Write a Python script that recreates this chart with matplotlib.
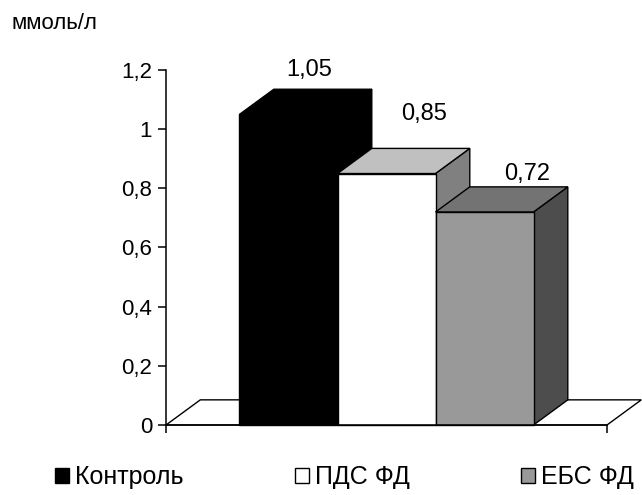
import matplotlib
matplotlib.use("Agg")
import matplotlib.pyplot as plt
from matplotlib.patches import Polygon, Patch

plt.rcParams['font.family'] = ['Liberation Sans', 'DejaVu Sans']

groups = ["Контроль", "ПДС ФД", "ЕБС ФД"]
values = [1.05, 0.85, 0.72]
value_labels = ["1,05", "0,85", "0,72"]
y_ticks = [0, 0.2, 0.4, 0.6, 0.8, 1.0, 1.2]
y_tick_labels = ["0", "0,2", "0,4", "0,6", "0,8", "1", "1,2"]
unit_label = "ммоль/л"

# front / top / side colours of every bar
front_colors = ["#000000", "#ffffff", "#999999"]
top_colors = ["#000000", "#c0c0c0", "#737373"]
side_colors = ["#000000", "#808080", "#4d4d4d"]

# where excel put the value labels (offset from bar left edge / bar value)
label_dx = [0.71, 0.88, 0.93]
label_dy = [0.15, 0.20, 0.13]

depth_x = 0.35   # in bar widths
depth_y = 0.085  # in value units
margin = 0.75    # floor beyond the bars, in bar widths

fig = plt.figure(figsize=(6.42, 4.95), dpi=100)
ax = fig.add_axes([166 / 642, 70 / 495, 476 / 642, 355 / 495])
n = len(values)
ax.set_xlim(-margin, -margin + 476 / 98)
ax.set_ylim(0, 1.2)

# floor
floor = Polygon([(-margin, 0), (n + margin, 0),
                 (n + margin + depth_x, depth_y), (-margin + depth_x, depth_y)],
                closed=True, fc="white", ec="black", lw=1.0, zorder=1, clip_on=False)
ax.add_patch(floor)

for i, v in enumerate(values):
    z = 2 + i
    side = [(i + 1, 0), (i + 1 + depth_x, depth_y), (i + 1 + depth_x, v + depth_y), (i + 1, v)]
    top = [(i, v), (i + 1, v), (i + 1 + depth_x, v + depth_y), (i + depth_x, v + depth_y)]
    front = [(i, 0), (i + 1, 0), (i + 1, v), (i, v)]
    ax.add_patch(Polygon(side, closed=True, fc=side_colors[i], ec="black", lw=1.0, zorder=z, clip_on=False))
    ax.add_patch(Polygon(top, closed=True, fc=top_colors[i], ec="black", lw=1.0, zorder=z, clip_on=False))
    ax.add_patch(Polygon(front, closed=True, fc=front_colors[i], ec="black", lw=1.0, zorder=z, clip_on=False))
    ax.text(i + label_dx[i], v + label_dy[i], value_labels[i], fontsize=17,
            ha="center", va="center", clip_on=False)

for s in ["top", "right"]:
    ax.spines[s].set_visible(False)
ax.spines["left"].set_bounds(0, 1.2)
ax.spines["bottom"].set_bounds(-margin, n + margin)
ax.spines["left"].set_linewidth(1.1)
ax.spines["bottom"].set_linewidth(1.1)
ax.spines["left"].set_zorder(10)
ax.spines["bottom"].set_zorder(10)

ax.set_yticks(y_ticks)
ax.set_yticklabels(y_tick_labels, fontsize=16)
ax.set_xticks([-margin, n + margin])
ax.set_xticklabels([])
ax.tick_params(axis="both", direction="out", length=6, width=1.1, pad=4)
ax.patch.set_visible(False)

fig.text(12 / 642, (495 - 29) / 495, unit_label, fontsize=16, va="baseline", ha="left")

handles = [Patch(fc=c, ec="black", lw=1.0) for c in front_colors]
fig.legend(handles, groups, loc="center", bbox_to_anchor=(0.537, 18 / 495), ncol=3,
           frameon=False, fontsize=18, handlelength=0.55, handleheight=0.55,
           handletextpad=0.25, columnspacing=4.45, borderaxespad=0, borderpad=0)

fig.savefig("out.png", dpi=100)
